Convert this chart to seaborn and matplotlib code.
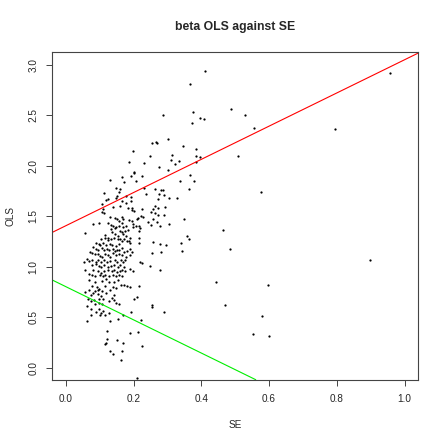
import matplotlib
matplotlib.use("Agg")
import matplotlib.pyplot as plt
import seaborn as sns
import pandas as pd

# === Data ===
se = [
    0.411, 0.367, 0.487, 0.376, 0.530, 0.397, 0.409, 0.373, 0.555, 0.795,
    0.957, 0.346, 0.384, 0.384, 0.395, 0.384, 0.508, 0.368, 0.379, 0.365,
    0.575, 0.349, 0.464, 0.358, 0.365, 0.343, 0.486, 0.897, 0.444, 0.597,
    0.471, 0.579, 0.553, 0.601, 0.286, 0.266, 0.255, 0.270, 0.303, 0.199,
    0.250, 0.313, 0.187, 0.230, 0.310, 0.333, 0.322, 0.275, 0.202, 0.201,
    0.302, 0.226, 0.165, 0.132, 0.192, 0.206, 0.171, 0.336, 0.148, 0.160,
    0.230, 0.263, 0.280, 0.288, 0.158, 0.113, 0.237, 0.274, 0.152, 0.178,
    0.291, 0.147, 0.194, 0.306, 0.329, 0.125, 0.120, 0.167, 0.194, 0.178,
    0.271, 0.108, 0.140, 0.159, 0.183, 0.195, 0.263, 0.271, 0.224, 0.257,
    0.292, 0.109, 0.107, 0.114, 0.196, 0.201, 0.251, 0.264, 0.222, 0.228,
    0.214, 0.209, 0.273, 0.289, 0.145, 0.151, 0.165, 0.169, 0.130, 0.097,
    0.157, 0.165, 0.188, 0.196, 0.199, 0.242, 0.252, 0.258, 0.270, 0.279,
    0.305, 0.081, 0.126, 0.134, 0.140, 0.148, 0.156, 0.170, 0.177, 0.199,
    0.208, 0.216, 0.220, 0.134, 0.145, 0.160, 0.166, 0.174, 0.184, 0.216,
    0.056, 0.116, 0.124, 0.136, 0.145, 0.153, 0.168, 0.177, 0.190, 0.217,
    0.103, 0.116, 0.125, 0.134, 0.142, 0.153, 0.160, 0.165, 0.172, 0.180,
    0.187, 0.090, 0.097, 0.101, 0.111, 0.120, 0.131, 0.137, 0.147, 0.158,
    0.189, 0.217, 0.257, 0.278, 0.295, 0.341, 0.081, 0.089, 0.096, 0.107,
    0.113, 0.123, 0.129, 0.140, 0.145, 0.150, 0.158, 0.166, 0.171, 0.180,
    0.190, 0.196, 0.072, 0.078, 0.086, 0.094, 0.100, 0.107, 0.116, 0.125,
    0.131, 0.140, 0.148, 0.157, 0.167, 0.178, 0.190, 0.254, 0.280, 0.062,
    0.068, 0.055, 0.078, 0.088, 0.096, 0.103, 0.114, 0.121, 0.131, 0.145,
    0.150, 0.162, 0.168, 0.175, 0.078, 0.089, 0.098, 0.105, 0.113, 0.124,
    0.133, 0.143, 0.153, 0.160, 0.171, 0.220, 0.225, 0.249, 0.058, 0.081,
    0.096, 0.105, 0.113, 0.126, 0.136, 0.142, 0.150, 0.160, 0.167, 0.175,
    0.190, 0.198, 0.278, 0.070, 0.078, 0.087, 0.101, 0.111, 0.117, 0.128,
    0.140, 0.148, 0.156, 0.167, 0.070, 0.087, 0.107, 0.118, 0.127, 0.142,
    0.155, 0.164, 0.173, 0.181, 0.190, 0.078, 0.093, 0.099, 0.115, 0.139,
    0.147, 0.217, 0.058, 0.070, 0.086, 0.095, 0.108, 0.131, 0.074, 0.081,
    0.095, 0.105, 0.119, 0.142, 0.137, 0.209, 0.202, 0.066, 0.074, 0.084,
    0.097, 0.109, 0.127, 0.142, 0.148, 0.158, 0.086, 0.098, 0.106, 0.064,
    0.254, 0.255, 0.076, 0.099, 0.090, 0.105, 0.109, 0.129, 0.193, 0.290,
    0.074, 0.101, 0.116, 0.168, 0.154, 0.221, 0.062, 0.131, 0.121, 0.191,
    0.212, 0.121, 0.150, 0.119, 0.117, 0.168, 0.225, 0.131, 0.139, 0.167,
    0.163, 0.211,
]
ols = [
    2.935, 2.809, 2.564, 2.529, 2.499, 2.475, 2.465, 2.420, 2.370, 2.360,
    2.915, 2.198, 2.162, 2.093, 2.083, 2.040, 2.099, 1.905, 1.846, 1.772,
    1.743, 1.469, 1.360, 1.301, 1.271, 1.152, 1.172, 1.063, 0.846, 0.819,
    0.618, 0.515, 0.337, 0.311, 2.499, 2.235, 2.228, 2.222, 2.261, 2.143,
    2.093, 2.103, 2.034, 2.030, 2.056, 2.044, 2.014, 1.984, 1.938, 1.928,
    1.957, 1.898, 1.888, 1.858, 1.895, 1.851, 1.836, 1.851, 1.782, 1.772,
    1.776, 1.772, 1.756, 1.759, 1.740, 1.730, 1.723, 1.723, 1.703, 1.703,
    1.710, 1.680, 1.690, 1.683, 1.683, 1.670, 1.657, 1.653, 1.653, 1.634,
    1.673, 1.624, 1.594, 1.601, 1.578, 1.584, 1.598, 1.584, 1.571, 1.571,
    1.594, 1.574, 1.542, 1.529, 1.561, 1.549, 1.545, 1.529, 1.502, 1.489,
    1.485, 1.472, 1.515, 1.515, 1.482, 1.472, 1.492, 1.472, 1.489, 1.436,
    1.450, 1.430, 1.465, 1.450, 1.426, 1.440, 1.416, 1.472, 1.443, 1.400,
    1.420, 1.420, 1.433, 1.416, 1.406, 1.396, 1.406, 1.396, 1.403, 1.396,
    1.406, 1.403, 1.380, 1.370, 1.383, 1.353, 1.341, 1.353, 1.360, 1.353,
    1.331, 1.314, 1.287, 1.341, 1.324, 1.307, 1.321, 1.301, 1.287, 1.287,
    1.271, 1.281, 1.264, 1.274, 1.284, 1.271, 1.274, 1.254, 1.271, 1.254,
    1.251, 1.238, 1.228, 1.215, 1.232, 1.215, 1.225, 1.212, 1.208, 1.222,
    1.232, 1.232, 1.242, 1.228, 1.218, 1.232, 1.195, 1.175, 1.162, 1.185,
    1.165, 1.178, 1.162, 1.172, 1.155, 1.162, 1.165, 1.185, 1.149, 1.152,
    1.172, 1.143, 1.149, 1.136, 1.123, 1.123, 1.106, 1.099, 1.123, 1.113,
    1.099, 1.133, 1.113, 1.123, 1.113, 1.099, 1.113, 1.133, 1.149, 1.079,
    1.056, 1.050, 1.066, 1.047, 1.069, 1.047, 1.066, 1.047, 1.056, 1.066,
    1.047, 1.069, 1.050, 1.063, 1.017, 1.024, 1.004, 1.000, 1.014, 1.000,
    1.010, 1.017, 1.000, 1.014, 0.997, 1.044, 1.034, 1.007, 0.967, 0.967,
    0.960, 0.941, 0.960, 0.967, 0.954, 0.967, 0.950, 0.957, 0.967, 0.954,
    0.974, 0.957, 0.970, 0.928, 0.918, 0.908, 0.918, 0.905, 0.921, 0.905,
    0.915, 0.905, 0.921, 0.908, 0.868, 0.851, 0.861, 0.875, 0.851, 0.851,
    0.865, 0.819, 0.822, 0.809, 0.796, 0.809, 0.796, 0.776, 0.809, 0.796,
    0.786, 0.812, 0.752, 0.766, 0.759, 0.766, 0.759, 0.769, 0.723, 0.737,
    0.733, 0.710, 0.737, 0.723, 0.687, 0.703, 0.680, 0.677, 0.663, 0.670,
    0.683, 0.677, 0.663, 0.670, 0.638, 0.631, 0.628, 0.638, 0.628, 0.614,
    0.618, 0.604, 0.578, 0.584, 0.551, 0.539, 0.561, 0.545, 0.549, 0.554,
    0.519, 0.522, 0.525, 0.519, 0.479, 0.472, 0.462, 0.462, 0.366, 0.347,
    0.353, 0.287, 0.277, 0.245, 0.238, 0.248, 0.215, 0.168, 0.139, 0.162,
    0.076, -0.105,
]

# reference lines (intercept, slope)
upper_line = (1.405, 1.645)
lower_line = (0.803, -1.645)

x_ticks = [0.0, 0.2, 0.4, 0.6, 0.8, 1.0]
y_ticks = [0.0, 0.5, 1.0, 1.5, 2.0, 2.5, 3.0]

df = pd.DataFrame({"SE": se, "OLS": ols})

# === Plot ===
sns.set_style("white")
plt.rcParams["font.family"] = ["Liberation Sans", "DejaVu Sans"]

W = 445
fig = plt.figure(figsize=(4.45, 4.45), dpi=100)
ax = fig.add_axes([52.3 / W, 1 - 379.7 / W, (418.3 - 52.3) / W, (379.7 - 52.3) / W])

sns.scatterplot(data=df, x="SE", y="OLS", ax=ax, color="black",
                s=2.6, linewidth=0, marker="o")

ax.axline((0, upper_line[0]), slope=upper_line[1], color="#ff0000", lw=0.8)
ax.axline((0, lower_line[0]), slope=lower_line[1], color="#00ee00", lw=0.8)

ax.set_xlim(-0.0395, 1.040)
ax.set_ylim(-0.119, 3.123)
ax.set_xticks(x_ticks)
ax.set_yticks(y_ticks)
ax.set_xticklabels([f"{t:.1f}" for t in x_ticks], fontsize=7.2)
ax.set_yticklabels([f"{t:.1f}" for t in y_ticks], fontsize=7.2,
                   rotation=90, va="center")
ax.tick_params(axis="both", direction="out", length=4, width=0.7,
               color="#444444", pad=6, bottom=True, left=True)
for sp in ax.spines.values():
    sp.set_color("#444444")
    sp.set_linewidth(0.8)

ax.set_xlabel("")
ax.set_ylabel("")
fig.text(235.3 / W, 1 - 425 / W, "SE", ha="center", va="center", fontsize=7.2)
fig.text(11 / W, 1 - 216 / W, "OLS", ha="center", va="center",
         rotation=90, fontsize=7.2)
fig.text(235.3 / W, 1 - 27 / W, "beta OLS against SE", ha="center",
         va="center", fontsize=8.8, fontweight="bold")

fig.savefig("out.png", dpi=100)
